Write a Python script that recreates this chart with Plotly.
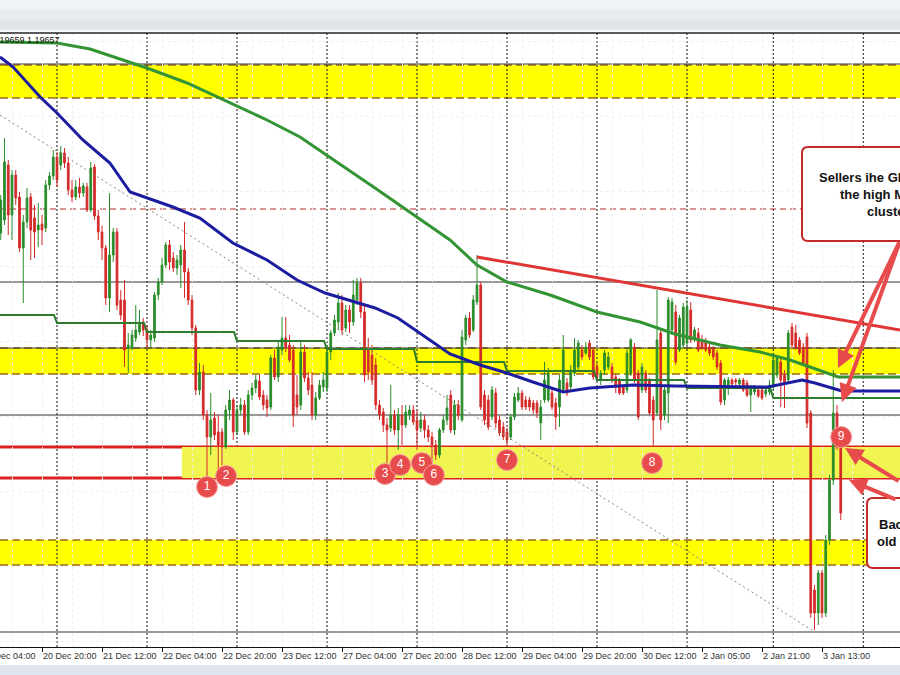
import plotly.graph_objects as go

# ---------------- data (hourly bars, index 0 = 20 Dec 04:00) ----------------
bar_index = list(range(5, 230))

open_ = [
    1.2247, 1.2260, 1.2315, 1.2265, 1.2305, 1.2283, 1.2232, 1.2258, 1.2283, 1.2262,
    1.2250, 1.2256, 1.2252, 1.2295, 1.2304, 1.2323, 1.2315, 1.2327, 1.2317, 1.2290,
    1.2283, 1.2293, 1.2287, 1.2293, 1.2270, 1.2313, 1.2264, 1.2248, 1.2232, 1.2182,
    1.2225, 1.2248, 1.2180, 1.2180, 1.2132, 1.2132, 1.2142, 1.2148, 1.2158, 1.2150,
    1.2140, 1.2142, 1.2185, 1.2198, 1.2215, 1.2235, 1.2222, 1.2212, 1.2215, 1.2230,
    1.2208, 1.2180, 1.2152, 1.2090, 1.2108, 1.2065, 1.2043, 1.2062, 1.2048, 1.2048,
    1.2033, 1.2070, 1.2080, 1.2048, 1.2070, 1.2075, 1.2048, 1.2085, 1.2092, 1.2099,
    1.2085, 1.2080, 1.2073, 1.2122, 1.2103, 1.2130, 1.2142, 1.2135, 1.2130, 1.2085,
    1.2075, 1.2128, 1.2102, 1.2095, 1.2065, 1.2082, 1.2093, 1.2092, 1.2128, 1.2147,
    1.2158, 1.2177, 1.2152, 1.2170, 1.2158, 1.2180, 1.2197, 1.2168, 1.2130, 1.2125,
    1.2115, 1.2075, 1.2068, 1.2055, 1.2052, 1.2065, 1.2050, 1.2065, 1.2055, 1.2065,
    1.2070, 1.2060, 1.2052, 1.2060, 1.2050, 1.2043, 1.2035, 1.2025, 1.2050, 1.2060,
    1.2085, 1.2050, 1.2075, 1.2060, 1.2140, 1.2162, 1.2150, 1.2178, 1.2195, 1.2085,
    1.2080, 1.2063, 1.2087, 1.2060, 1.2053, 1.2048, 1.2043, 1.2063, 1.2080, 1.2087,
    1.2080, 1.2080, 1.2077, 1.2077, 1.2057, 1.2080, 1.2080, 1.2087, 1.2077, 1.2073,
    1.2090, 1.2097, 1.2093, 1.2107, 1.2113, 1.2130, 1.2127, 1.2137, 1.2130, 1.2113,
    1.2100, 1.2110, 1.2113, 1.2113, 1.2103, 1.2100, 1.2093, 1.2090, 1.2107, 1.2133,
    1.2107, 1.2090, 1.2107, 1.2100, 1.2080, 1.2067, 1.2147, 1.2065, 1.2087, 1.2150,
    1.2168, 1.2130, 1.2135, 1.2137, 1.2170, 1.2142, 1.2147, 1.2140, 1.2138, 1.2133,
    1.2132, 1.2127, 1.2117, 1.2080, 1.2095, 1.2100, 1.2100, 1.2096, 1.2100, 1.2097,
    1.2085, 1.2088, 1.2090, 1.2090, 1.2086, 1.2088, 1.2093, 1.2105, 1.2118, 1.2105,
    1.2100, 1.2153, 1.2147, 1.2140, 1.2133, 1.2143, 1.2067, 1.1890, 1.1867, 1.1907,
    1.1867, 1.1940, 1.2000, 1.2067, 1.2037]

high = [
    1.2285, 1.2342, 1.2320, 1.2310, 1.2310, 1.2288, 1.2265, 1.2292, 1.2287, 1.2275,
    1.2277, 1.2265, 1.2300, 1.2308, 1.2330, 1.2328, 1.2334, 1.2332, 1.2323, 1.2300,
    1.2300, 1.2302, 1.2297, 1.2297, 1.2318, 1.2316, 1.2270, 1.2254, 1.2235, 1.2287,
    1.2252, 1.2252, 1.2190, 1.2200, 1.2147, 1.2150, 1.2175, 1.2170, 1.2162, 1.2155,
    1.2150, 1.2188, 1.2202, 1.2222, 1.2238, 1.2240, 1.2228, 1.2225, 1.2235, 1.2258,
    1.2212, 1.2185, 1.2155, 1.2117, 1.2115, 1.2070, 1.2087, 1.2068, 1.2065, 1.2052,
    1.2075, 1.2090, 1.2082, 1.2075, 1.2082, 1.2080, 1.2090, 1.2097, 1.2105, 1.2105,
    1.2090, 1.2085, 1.2125, 1.2130, 1.2138, 1.2163, 1.2163, 1.2145, 1.2135, 1.2105,
    1.2140, 1.2135, 1.2108, 1.2108, 1.2088, 1.2100, 1.2108, 1.2135, 1.2150, 1.2165,
    1.2187, 1.2185, 1.2175, 1.2175, 1.2200, 1.2202, 1.2202, 1.2175, 1.2142, 1.2135,
    1.2122, 1.2080, 1.2072, 1.2062, 1.2095, 1.2070, 1.2072, 1.2075, 1.2075, 1.2075,
    1.2075, 1.2070, 1.2068, 1.2065, 1.2055, 1.2048, 1.2040, 1.2052, 1.2065, 1.2085,
    1.2090, 1.2080, 1.2080, 1.2150, 1.2165, 1.2168, 1.2185, 1.2225, 1.2198, 1.2090,
    1.2085, 1.2094, 1.2092, 1.2064, 1.2058, 1.2052, 1.2066, 1.2087, 1.2093, 1.2090,
    1.2084, 1.2083, 1.2080, 1.2080, 1.2080, 1.2118, 1.2112, 1.2092, 1.2082, 1.2105,
    1.2145, 1.2102, 1.2115, 1.2142, 1.2140, 1.2135, 1.2138, 1.2140, 1.2133, 1.2117,
    1.2110, 1.2130, 1.2128, 1.2117, 1.2106, 1.2102, 1.2095, 1.2132, 1.2142, 1.2137,
    1.2110, 1.2117, 1.2110, 1.2102, 1.2084, 1.2190, 1.2150, 1.2095, 1.2183, 1.2182,
    1.2175, 1.2165, 1.2177, 1.2180, 1.2178, 1.2153, 1.2152, 1.2145, 1.2142, 1.2137,
    1.2134, 1.2130, 1.2120, 1.2102, 1.2103, 1.2102, 1.2102, 1.2102, 1.2102, 1.2100,
    1.2095, 1.2095, 1.2093, 1.2092, 1.2092, 1.2100, 1.2125, 1.2125, 1.2122, 1.2110,
    1.2150, 1.2157, 1.2155, 1.2143, 1.2137, 1.2147, 1.2070, 1.1895, 1.1910, 1.1910,
    1.1945, 1.2005, 1.2110, 1.2075, 1.2043]

low = [
    1.2240, 1.2255, 1.2245, 1.2240, 1.2275, 1.2228, 1.2177, 1.2252, 1.2220, 1.2222,
    1.2233, 1.2235, 1.2248, 1.2290, 1.2300, 1.2293, 1.2310, 1.2312, 1.2285, 1.2278,
    1.2280, 1.2282, 1.2283, 1.2268, 1.2268, 1.2260, 1.2240, 1.2220, 1.2175, 1.2168,
    1.2218, 1.2170, 1.2160, 1.2113, 1.2107, 1.2130, 1.2138, 1.2145, 1.2144, 1.2132,
    1.2132, 1.2138, 1.2180, 1.2195, 1.2212, 1.2210, 1.2208, 1.2205, 1.2192, 1.2182,
    1.2175, 1.2145, 1.2085, 1.2085, 1.2060, 1.2002, 1.2025, 1.2040, 1.2010, 1.2015,
    1.2031, 1.2060, 1.2040, 1.2045, 1.2065, 1.2045, 1.2045, 1.2080, 1.2087, 1.2080,
    1.2070, 1.2063, 1.2070, 1.2100, 1.2098, 1.2125, 1.2128, 1.2118, 1.2053, 1.2065,
    1.2070, 1.2098, 1.2085, 1.2060, 1.2060, 1.2080, 1.2088, 1.2088, 1.2120, 1.2144,
    1.2150, 1.2145, 1.2148, 1.2147, 1.2154, 1.2175, 1.2162, 1.2098, 1.2100, 1.2095,
    1.2070, 1.2060, 1.2048, 1.2017, 1.2048, 1.2045, 1.2030, 1.2035, 1.2052, 1.2060,
    1.2055, 1.2030, 1.2048, 1.2042, 1.2038, 1.2018, 1.2020, 1.2022, 1.2047, 1.2055,
    1.2047, 1.2045, 1.2060, 1.2058, 1.2135, 1.2142, 1.2148, 1.2175, 1.2070, 1.2055,
    1.2050, 1.2060, 1.2052, 1.2044, 1.2040, 1.2035, 1.2040, 1.2060, 1.2078, 1.2070,
    1.2070, 1.2069, 1.2066, 1.2062, 1.2040, 1.2077, 1.2078, 1.2070, 1.2050, 1.2053,
    1.2087, 1.2084, 1.2090, 1.2104, 1.2110, 1.2120, 1.2125, 1.2120, 1.2100, 1.2100,
    1.2095, 1.2105, 1.2110, 1.2097, 1.2087, 1.2085, 1.2085, 1.2087, 1.2104, 1.2097,
    1.2060, 1.2087, 1.2087, 1.2065, 1.2033, 1.2064, 1.2050, 1.2060, 1.2057, 1.2145,
    1.2115, 1.2128, 1.2132, 1.2135, 1.2137, 1.2138, 1.2128, 1.2130, 1.2128, 1.2124,
    1.2120, 1.2110, 1.2075, 1.2075, 1.2085, 1.2094, 1.2095, 1.2094, 1.2088, 1.2083,
    1.2068, 1.2085, 1.2082, 1.2080, 1.2083, 1.2085, 1.2090, 1.2102, 1.2073, 1.2072,
    1.2097, 1.2132, 1.2130, 1.2125, 1.2114, 1.2052, 1.1862, 1.1850, 1.1855, 1.1862,
    1.1863, 1.1935, 1.1995, 1.2030, 1.1960]

close = [
    1.2280, 1.2318, 1.2265, 1.2305, 1.2282, 1.2232, 1.2258, 1.2282, 1.2250, 1.2248,
    1.2255, 1.2250, 1.2295, 1.2304, 1.2323, 1.2300, 1.2327, 1.2317, 1.2290, 1.2283,
    1.2293, 1.2287, 1.2294, 1.2270, 1.2312, 1.2264, 1.2248, 1.2232, 1.2182, 1.2225,
    1.2248, 1.2175, 1.2165, 1.2130, 1.2135, 1.2145, 1.2150, 1.2158, 1.2150, 1.2140,
    1.2145, 1.2185, 1.2198, 1.2215, 1.2235, 1.2218, 1.2212, 1.2220, 1.2230, 1.2208,
    1.2180, 1.2152, 1.2090, 1.2108, 1.2065, 1.2043, 1.2060, 1.2045, 1.2035, 1.2033,
    1.2070, 1.2080, 1.2048, 1.2070, 1.2075, 1.2048, 1.2085, 1.2092, 1.2100, 1.2083,
    1.2075, 1.2072, 1.2122, 1.2103, 1.2133, 1.2142, 1.2132, 1.2120, 1.2065, 1.2073,
    1.2128, 1.2102, 1.2090, 1.2065, 1.2082, 1.2095, 1.2100, 1.2128, 1.2147, 1.2160,
    1.2177, 1.2150, 1.2170, 1.2158, 1.2185, 1.2197, 1.2168, 1.2105, 1.2108, 1.2100,
    1.2075, 1.2065, 1.2055, 1.2050, 1.2065, 1.2050, 1.2065, 1.2055, 1.2068, 1.2070,
    1.2058, 1.2050, 1.2060, 1.2050, 1.2043, 1.2035, 1.2025, 1.2050, 1.2060, 1.2072,
    1.2050, 1.2075, 1.2065, 1.2143, 1.2162, 1.2145, 1.2180, 1.2195, 1.2073, 1.2060,
    1.2053, 1.2090, 1.2057, 1.2047, 1.2043, 1.2040, 1.2063, 1.2083, 1.2087, 1.2073,
    1.2073, 1.2073, 1.2070, 1.2067, 1.2073, 1.2100, 1.2107, 1.2073, 1.2063, 1.2100,
    1.2130, 1.2087, 1.2110, 1.2130, 1.2137, 1.2123, 1.2133, 1.2123, 1.2103, 1.2103,
    1.2107, 1.2127, 1.2123, 1.2100, 1.2093, 1.2087, 1.2087, 1.2127, 1.2140, 1.2100,
    1.2063, 1.2113, 1.2090, 1.2067, 1.2060, 1.2140, 1.2060, 1.2090, 1.2180, 1.2178,
    1.2118, 1.2162, 1.2173, 1.2173, 1.2140, 1.2150, 1.2130, 1.2132, 1.2130, 1.2127,
    1.2123, 1.2113, 1.2078, 1.2100, 1.2100, 1.2096, 1.2098, 1.2100, 1.2090, 1.2085,
    1.2093, 1.2093, 1.2084, 1.2082, 1.2090, 1.2095, 1.2120, 1.2122, 1.2100, 1.2097,
    1.2147, 1.2135, 1.2133, 1.2127, 1.2117, 1.2057, 1.1867, 1.1867, 1.1907, 1.1867,
    1.1940, 1.2000, 1.2067, 1.2033, 1.1967]

tick_index = [16, 32, 48, 64, 80, 96, 112, 128, 144, 160, 176, 192, 208, 224]
tick_text = ["20 Dec 20:00", "21 Dec 12:00", "22 Dec 04:00", "22 Dec 20:00",
             "23 Dec 12:00", "27 Dec 04:00", "27 Dec 20:00", "28 Dec 12:00",
             "29 Dec 04:00", "29 Dec 20:00", "30 Dec 12:00", "2 Jan 05:00",
             "2 Jan 21:00", "3 Jan 13:00"]
first_tick_text = "20 Dec 04:00"
day_breaks = [20, 44, 68, 92, 116, 140, 164, 188, 211, 235]

# moving averages (read at selected bars)
ma100_x = [4.8, 8.3, 15.5, 20, 26.9, 34.1, 39.5, 44, 50.9, 58.1, 66.9, 76, 84, 91.5,
           100.3, 104.8, 110.9, 118.1, 124.8, 132.8, 140, 146.9, 155, 162.1, 173.6,
           184.8, 202.7, 209.6, 218.7, 222.1, 229.3, 244.8]
ma100_y = [1.2423, 1.2413, 1.2383, 1.2367, 1.2340, 1.2317, 1.2288, 1.2282, 1.2273,
           1.2262, 1.2237, 1.2220, 1.2200, 1.2187, 1.2177, 1.2172, 1.2162, 1.2143,
           1.2126, 1.2115, 1.2107, 1.2098, 1.2088, 1.2092, 1.2095, 1.2094, 1.2093,
           1.2093, 1.2100, 1.2097, 1.2089, 1.2089]
ma200_x = [4.8, 20, 28.8, 36, 44, 54.7, 62.7, 68.8, 76, 84.8, 104.8, 124.8, 132, 140,
           151.5, 164, 175.5, 184.8, 196.8, 207.5, 215.5, 220.8, 228.3, 244.8]
ma200_y = [1.2438, 1.2437, 1.2431, 1.2422, 1.2412, 1.2397, 1.2383, 1.2373, 1.2360,
           1.2343, 1.2292, 1.2240, 1.2215, 1.2198, 1.2185, 1.2168, 1.2158, 1.2146,
           1.2135, 1.2128, 1.2120, 1.2113, 1.2103, 1.2103]
daily_ma_start = [4.8, 20, 44, 68, 92, 116, 140, 164, 188, 211]
daily_ma_value = [1.2165, 1.2157, 1.2148, 1.2139, 1.2131, 1.2118, 1.2109, 1.2100,
                  1.2092, 1.2082]

trend_red_x = [132, 244.8]
trend_red_y = [1.2223, 1.2150]
trend_dot_x = [4.8, 222.1]
trend_dot_y = [1.2365, 1.1848]

black_levels = [1.2416, 1.2198, 1.2132, 1.2065, 1.1848]
yellow_zones = [(1.2382, 1.2415), (1.2106, 1.2132), (1.1915, 1.1940)]
support_zone = (1.2002, 1.2033)
support_start = 53.3
red_levels = [1.2033, 1.2002]
dashed_red_level = 1.2271

touch_labels = ["1", "2", "3", "4", "5", "6", "7", "8", "9"]
touch_x = [60.0, 65.1, 107.5, 111.5, 117.3, 120.5, 140.0, 178.7, 229.1]
touch_y = [1.1993, 1.2004, 1.2006, 1.2015, 1.2017, 1.2005, 1.2020, 1.2017, 1.2043]

X_RANGE = [4.8, 244.8]
Y_RANGE = [1.1833, 1.2447]

# ---------------- figure ----------------
W, H = 900, 675
T, B = 33, 28
PH = H - T - B


def px_x(p):
    return p / W


def px_y(p):
    return (H - B - p) / PH


fig = go.Figure()

# daily MA step line
sx, sy = [], []
for k, (s, v) in enumerate(zip(daily_ma_start, daily_ma_value)):
    sx.append(s)
    sy.append(v)
    if k + 1 < len(daily_ma_start):
        sx.append(daily_ma_start[k + 1] - 0.8)
        sy.append(v)
    else:
        sx.append(X_RANGE[1])
        sy.append(v)
fig.add_trace(go.Scatter(x=sx, y=sy, mode="lines",
                         line=dict(color="#2e7d2e", width=2), hoverinfo="skip"))

fig.add_trace(go.Candlestick(
    x=bar_index, open=open_, high=high, low=low, close=close,
    increasing=dict(line=dict(color="#2a8c2a", width=1), fillcolor="#2a8c2a"),
    decreasing=dict(line=dict(color="#d42a2a", width=1), fillcolor="#d42a2a"),
    whiskerwidth=0, hoverinfo="skip"))

fig.add_trace(go.Scatter(x=trend_dot_x, y=trend_dot_y, mode="lines",
                         line=dict(color="#8c8478", width=1, dash="2px,3px"),
                         hoverinfo="skip"))
fig.add_trace(go.Scatter(x=ma200_x, y=ma200_y, mode="lines",
                         line=dict(color="#339433", width=3), hoverinfo="skip"))
fig.add_trace(go.Scatter(x=ma100_x, y=ma100_y, mode="lines",
                         line=dict(color="#1c1ca0", width=3), hoverinfo="skip"))
fig.add_trace(go.Scatter(x=trend_red_x, y=trend_red_y, mode="lines",
                         line=dict(color="#e03535", width=3), hoverinfo="skip"))

fig.add_trace(go.Scatter(
    x=touch_x, y=touch_y, mode="markers+text", text=touch_labels,
    textposition="middle center",
    textfont=dict(color="white", size=12, family="Liberation Sans"),
    marker=dict(size=21, color="#e84b4b", line=dict(color="#f5a0a0", width=1)),
    hoverinfo="skip"))

shapes = []
# header and footer strips
header_cols = ["#eff2f6", "#e8ecf1", "#e1e6ec"]
for i, c in enumerate(header_cols):
    shapes.append(dict(type="rect", xref="paper", yref="paper", x0=0, x1=1,
                       y0=px_y(10 * (i + 1)), y1=px_y(10 * i),
                       fillcolor=c, line=dict(width=0), layer="above"))
shapes.append(dict(type="rect", xref="paper", yref="paper", x0=0, x1=1,
                   y0=px_y(32), y1=px_y(30), fillcolor="#f7f9fb",
                   line=dict(width=0), layer="above"))
shapes.append(dict(type="line", xref="paper", yref="paper", x0=0, x1=1,
                   y0=1, y1=1, line=dict(color="#222222", width=1.5), layer="above"))
shapes.append(dict(type="rect", xref="paper", yref="paper", x0=0, x1=1,
                   y0=px_y(675), y1=px_y(665), fillcolor="#dfe5ee",
                   line=dict(width=0), layer="above"))

# yellow zones
for lo, hi in yellow_zones:
    shapes.append(dict(type="rect", xref="paper", yref="y", x0=0, x1=1, y0=lo, y1=hi,
                       fillcolor="#ffff00", line=dict(width=0), layer="below"))
shapes.append(dict(type="rect", xref="x", yref="y", x0=support_start, x1=X_RANGE[1],
                   y0=support_zone[0], y1=support_zone[1],
                   fillcolor="#f0f552", line=dict(width=0), layer="below"))
for lo, hi in yellow_zones:
    for v in (lo, hi):
        shapes.append(dict(type="line", xref="paper", yref="y", x0=0, x1=1, y0=v, y1=v,
                           line=dict(color="#9a6b1f", width=1.5, dash="8px,4px"),
                           layer="below"))

# day separators
for d in day_breaks:
    shapes.append(dict(type="line", xref="x", yref="paper", x0=d, x1=d, y0=0, y1=1,
                       line=dict(color="#111111", width=1, dash="2px,2px"),
                       layer="below"))

for v in black_levels:
    shapes.append(dict(type="line", xref="paper", yref="y", x0=0, x1=1, y0=v, y1=v,
                       line=dict(color="#333333", width=1), layer="below"))
shapes.append(dict(type="line", xref="paper", yref="y", x0=0, x1=1,
                   y0=dashed_red_level, y1=dashed_red_level,
                   line=dict(color="#b22a2a", width=1, dash="6px,4px"), layer="below"))
for v in red_levels:
    shapes.append(dict(type="line", xref="paper", yref="y", x0=0, x1=1, y0=v, y1=v,
                       line=dict(color="#dd2020", width=3), layer="below"))


def rounded_box(x0, y0, x1, y1, r=6):
    X = lambda p: px_x(p)
    Y = lambda p: px_y(p)
    return (f"M {X(x0 + r)} {Y(y0)} L {X(x1 - r)} {Y(y0)} Q {X(x1)} {Y(y0)} {X(x1)} {Y(y0 + r)} "
            f"L {X(x1)} {Y(y1 - r)} Q {X(x1)} {Y(y1)} {X(x1 - r)} {Y(y1)} "
            f"L {X(x0 + r)} {Y(y1)} Q {X(x0)} {Y(y1)} {X(x0)} {Y(y1 - r)} "
            f"L {X(x0)} {Y(y0 + r)} Q {X(x0)} {Y(y0)} {X(x0 + r)} {Y(y0)} Z")


for bx in [(802, 147, 915, 241), (867, 498, 915, 568)]:
    shapes.append(dict(type="path", xref="paper", yref="paper", path=rounded_box(*bx),
                       fillcolor="white", line=dict(color="#c62828", width=2),
                       layer="above"))

annotations = []
box_font = dict(family="Liberation Sans", size=13, color="#111111")
for txt, x, y in [("<b>Sellers ihe GBPUSD</b>", 817, 177), ("<b>the high MA</b>", 838, 194),
                  ("<b>cluster</b>", 865, 211), ("<b>Back below</b>", 877, 524),
                  ("<b>old floor</b>", 875, 541)]:
    annotations.append(dict(text=txt, xref="paper", yref="paper", x=px_x(x), y=px_y(y),
                            xanchor="left", yanchor="middle", showarrow=False,
                            font=box_font))

for tipx, tipy, ax, ay in [(838, 368, 64, -127), (842, 402, 81, -161),
                           (845, 448, 70, 34), (849, 480, 48, 20)]:
    annotations.append(dict(text="", xref="paper", yref="paper", x=px_x(tipx),
                            y=px_y(tipy), ax=ax, ay=ay, showarrow=True,
                            arrowhead=2, arrowsize=0.9, arrowwidth=4,
                            arrowcolor="#e84b4b", standoff=0))

annotations.append(dict(text="1.19658 1.19659 1.19657", xref="paper", yref="paper",
                        x=px_x(62), y=px_y(40), xanchor="right", yanchor="middle",
                        showarrow=False,
                        font=dict(family="Liberation Sans", size=9, color="#111111")))
annotations.append(dict(text=first_tick_text, xref="paper", yref="paper",
                        x=px_x(-20), y=px_y(656), xanchor="left", yanchor="middle",
                        showarrow=False,
                        font=dict(family="Liberation Sans", size=9, color="#333333")))

fig.update_layout(
    width=W, height=H, margin=dict(l=0, r=0, t=T, b=B),
    paper_bgcolor="white", plot_bgcolor="white", showlegend=False,
    boxgap=0.35,
    shapes=shapes, annotations=annotations,
    xaxis=dict(range=X_RANGE, tickmode="array", tickvals=tick_index,
               ticktext=tick_text, ticks="outside", ticklen=4, tickcolor="#111",
               tickangle=0, ticklabelposition="outside right",
               tickfont=dict(family="Liberation Sans", size=9, color="#333333"),
               showline=True, linecolor="#111111", linewidth=1,
               showgrid=True, gridcolor="#efefef", griddash="dot",
               minor=dict(tickvals=list(range(8, 245, 16)), showgrid=True,
                          gridcolor="#efefef", griddash="dot"),
               rangeslider=dict(visible=False), zeroline=False, fixedrange=True),
    yaxis=dict(range=Y_RANGE, showticklabels=False, ticks="", zeroline=False,
               showline=False, tickmode="linear", tick0=1.2439, dtick=0.0075,
               showgrid=True, gridcolor="#efefef", griddash="dot", fixedrange=True),
)

fig.write_html("out.html", config={"displayModeBar": False},
               post_script="document.body.style.margin='0';document.body.style.padding='0';")
